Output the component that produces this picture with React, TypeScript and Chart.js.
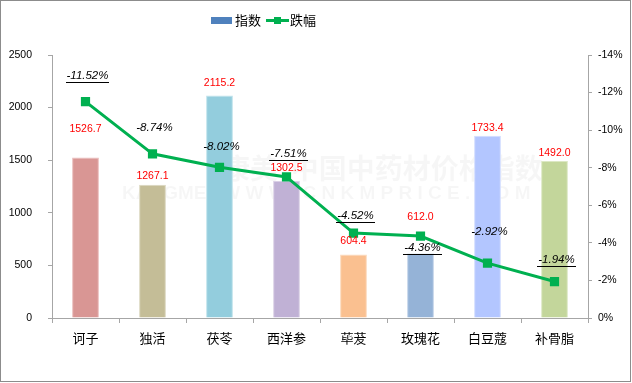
import React, { useEffect, useRef } from 'react';
import { Chart, registerables } from 'chart.js';

Chart.register(...registerables);

const categories = ['诃子', '独活', '茯苓', '西洋参', '荜茇', '玫瑰花', '白豆蔻', '补骨脂'];
const indexValues = [1526.7, 1267.1, 2115.2, 1302.5, 604.4, 612.0, 1733.4, 1492.0];
const changeValues = [-11.52, -8.74, -8.02, -7.51, -4.52, -4.36, -2.92, -1.94];
const barColors = ['#D99694', '#C4BD97', '#93CDDD', '#C0B1D5', '#FAC090', '#95B3D7', '#B3C6FF', '#C3D69B'];
const barBorders = ['#EBBDBC', '#DCD8C0', '#BFE3EC', '#DAD0E6', '#FCD9BC', '#C0D2E8', '#D2DDFF', '#DCE8C4'];
const indexLabels = ['1526.7', '1267.1', '2115.2', '1302.5', '604.4', '612.0', '1733.4', '1492.0'];
const changeLabels = ['-11.52%', '-8.74%', '-8.02%', '-7.51%', '-4.52%', '-4.36%', '-2.92%', '-1.94%'];
const legendLabels = ['指数', '跌幅'];
const watermarkTop = '康美  中国中药材价格指数';
const watermarkBottom = 'KANGMEI  W W W . C N K M P R I C E . C O M';

// label layout (px offsets, styling only)
const barLabelLift = [28, 9, 12, 13, 13, 37, 8, 8];
const pctLabelShift = [-26, -26, -21, -23, -17, 12, -31, -22];
const pctUnderline = [true, false, false, true, true, true, false, true];

const NUM_FONT = '"Liberation Sans", Arial, sans-serif';
const CJK_FONT = '"Noto Sans CJK SC", "Noto Sans", sans-serif';

const decorPlugin = {
  id: 'decor',
  beforeDatasetsDraw(chart: any) {
    const ctx = chart.ctx;
    ctx.save();
    ctx.fillStyle = 'rgba(0,0,0,0.035)';
    ctx.textBaseline = 'middle';
    ctx.textAlign = 'left';
    ctx.font = `bold 28px ${CJK_FONT}`;
    ctx.fillText(watermarkTop, 222, 168);
    ctx.font = `bold 19px ${NUM_FONT}`;
    ctx.fillText(watermarkBottom, 122, 194);
    ctx.restore();
  },
  afterDatasetsDraw(chart: any) {
    const ctx = chart.ctx;
    const barMeta = chart.getDatasetMeta(0);
    const lineMeta = chart.getDatasetMeta(1);
    ctx.save();
    ctx.textAlign = 'center';
    ctx.textBaseline = 'middle';
    // bar labels
    ctx.fillStyle = '#FF0000';
    ctx.font = `10.5px ${NUM_FONT}`;
    barMeta.data.forEach((bar: any, i: number) => {
      ctx.fillText(indexLabels[i], bar.x, bar.y - barLabelLift[i]);
    });
    // percent labels
    ctx.fillStyle = '#000000';
    ctx.strokeStyle = '#000000';
    ctx.lineWidth = 1;
    ctx.font = `italic 11.5px ${NUM_FONT}`;
    lineMeta.data.forEach((pt: any, i: number) => {
      const x = pt.x + 2;
      const y = pt.y + pctLabelShift[i];
      ctx.fillText(changeLabels[i], x, y);
      if (pctUnderline[i]) {
        const w = ctx.measureText(changeLabels[i]).width;
        ctx.beginPath();
        ctx.moveTo(Math.round(x - w / 2 - 1), Math.round(y + 6) + 0.5);
        ctx.lineTo(Math.round(x + w / 2 + 1), Math.round(y + 6) + 0.5);
        ctx.stroke();
      }
    });
    ctx.restore();
  },
  afterDraw(chart: any) {
    const ctx = chart.ctx;
    ctx.save();
    // legend
    ctx.fillStyle = '#4F81BD';
    ctx.fillRect(211, 17, 21, 7);
    ctx.fillStyle = '#000';
    ctx.font = `13px ${CJK_FONT}`;
    ctx.textBaseline = 'middle';
    ctx.textAlign = 'left';
    ctx.fillText(legendLabels[0], 235, 20);
    ctx.strokeStyle = '#00B050';
    ctx.lineWidth = 3;
    ctx.beginPath();
    ctx.moveTo(266, 20.5);
    ctx.lineTo(289, 20.5);
    ctx.stroke();
    ctx.fillStyle = '#00B050';
    ctx.fillRect(274, 17, 7, 7);
    ctx.fillStyle = '#000';
    ctx.fillText(legendLabels[1], 290, 20);
    // outer border
    ctx.strokeStyle = '#8C8C8C';
    ctx.lineWidth = 1;
    ctx.strokeRect(0.5, 0.5, 630, 381);
    ctx.restore();
  },
};

export default function App() {
  const ref = useRef<HTMLCanvasElement>(null);
  useEffect(() => {
    document.body.style.margin = '0';
    const canvas = ref.current!;
    const chart = new Chart(canvas, {
      type: 'bar',
      data: {
        labels: categories,
        datasets: [
          {
            type: 'bar',
            label: legendLabels[0],
            data: indexValues,
            backgroundColor: barColors,
            borderColor: barBorders,
            borderWidth: 1,
            barPercentage: 0.4,
            categoryPercentage: 1,
            yAxisID: 'y',
            order: 2,
          } as any,
          {
            type: 'line',
            label: legendLabels[1],
            data: changeValues,
            borderColor: '#00B050',
            backgroundColor: '#00B050',
            borderWidth: 3,
            pointStyle: 'rect',
            pointRadius: 6.5,
            pointBorderWidth: 0,
            yAxisID: 'y1',
            order: 1,
          } as any,
        ],
      },
      options: {
        responsive: false,
        animation: false,
        devicePixelRatio: 1,
        layout: { padding: { top: 55, left: 0, right: 0, bottom: 0 } },
        plugins: { legend: { display: false }, tooltip: { enabled: false } },
        scales: {
          x: {
            offset: true,
            grid: { drawOnChartArea: false, drawTicks: true, tickLength: 5, color: '#A6A6A6', offset: true },
            border: { display: true, color: '#A6A6A6' },
            ticks: { color: '#000', padding: 7, font: { family: CJK_FONT, size: 13 }, maxRotation: 0 },
            afterFit: (s: any) => { s.height = 65; },
          },
          y: {
            position: 'left',
            min: 0,
            max: 2500,
            ticks: {
              stepSize: 500,
              color: '#000',
              padding: 16,
              font: { family: NUM_FONT, size: 10.5 },
              callback: (v: any) => String(v),
            },
            grid: { drawOnChartArea: false, drawTicks: true, tickLength: 4, color: '#A6A6A6' },
            border: { display: true, color: '#A6A6A6' },
            afterFit: (s: any) => { s.width = 52; },
          },
          y1: {
            position: 'right',
            min: -14,
            max: 0,
            reverse: true,
            ticks: {
              stepSize: 2,
              color: '#000',
              padding: 6,
              font: { family: NUM_FONT, size: 10.5 },
              callback: (v: any) => `${v}%`,
            },
            grid: { drawOnChartArea: false, drawTicks: true, tickLength: 4, color: '#A6A6A6' },
            border: { display: true, color: '#A6A6A6' },
            afterFit: (s: any) => { s.width = 44; },
          },
        },
      },
      plugins: [decorPlugin],
    });
    return () => chart.destroy();
  }, []);
  return (
    <canvas ref={ref} width={632} height={383} style={{ display: 'block', width: 632, height: 383 }} />
  );
}
